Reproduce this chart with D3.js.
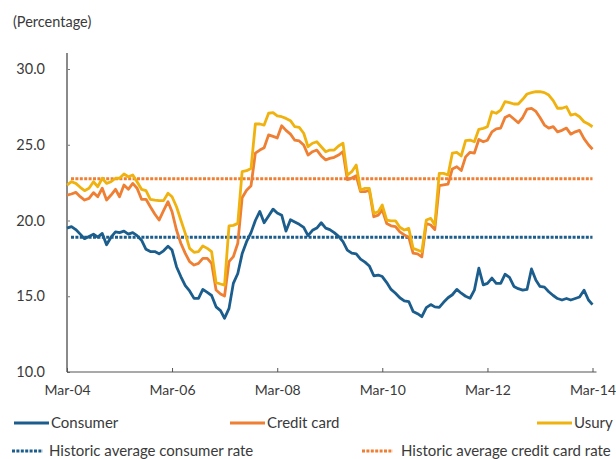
<!DOCTYPE html>
<html>
<head>
<meta charset="utf-8">
<script src="https://cdn.jsdelivr.net/npm/d3@7"></script>
<style>
  body { margin: 0; background: #fff; }
  svg text { font-family: Lato, "Open Sans", sans-serif; fill: #3a3a3a; }
</style>
</head>
<body>
<svg id="chart"></svg>
<script>
// monthly series, Mar-04 .. Mar-14 (121 months)
const consumer = [
  19.5, 19.6, 19.4, 19.1, 18.8, 18.95, 19.1, 18.9, 19.15, 18.4, 18.9, 19.25,
  19.2, 19.3, 19.1, 19.2, 19.0, 18.7, 18.1, 17.95, 17.95, 17.8, 18.0, 18.3,
  18.05, 16.95, 16.3, 15.7, 15.35, 14.86, 14.86, 15.45, 15.25, 15.05, 14.3, 14.05,
  13.55, 14.2, 15.85, 16.5, 17.8, 18.6, 19.2, 20.0, 20.6, 19.85, 20.3, 20.75,
  20.5, 20.35, 19.3, 20.05, 19.9, 19.75, 19.55, 19.0, 19.35, 19.5, 19.85, 19.5,
  19.4, 19.2, 18.95, 18.6, 18.05, 17.85, 17.8, 17.45, 17.25, 17.0, 16.35, 16.4,
  16.3, 15.9, 15.45, 15.2, 14.9, 14.7, 14.65, 14.0, 13.85, 13.65, 14.25, 14.45,
  14.3, 14.27, 14.6, 14.9, 15.1, 15.45, 15.2, 15.0, 14.87, 15.4, 16.85, 15.75,
  15.85, 16.2, 15.85, 15.85, 16.45, 16.25, 15.65, 15.5, 15.4, 15.45, 16.8, 16.05,
  15.65, 15.6, 15.3, 15.05, 14.85, 14.75, 14.85, 14.75, 14.85, 14.95, 15.4, 14.75,
  14.45
];

const creditCard = [
  21.68, 21.75, 21.86, 21.57, 21.35, 21.46, 21.84, 21.57, 22.13, 21.35, 21.68, 22.06,
  21.57, 22.34, 22.06, 22.45, 22.13, 21.4, 21.4, 20.91, 20.43, 20.03, 20.65, 21.24,
  20.58, 19.37, 18.5, 17.83, 17.28, 17.06, 17.17, 17.5, 17.5, 17.17, 15.41, 15.15,
  15.02, 17.28, 17.61, 18.5, 21.5, 22.0, 22.3, 24.45, 24.65, 24.8, 25.65, 25.55,
  25.45, 26.25, 25.95, 25.7, 25.3, 25.25, 24.98, 24.32, 24.54, 24.65, 24.26, 24.0,
  24.1, 24.17, 24.32, 24.54, 22.7, 22.8, 22.95, 21.9, 21.9, 22.0, 20.25, 20.35,
  20.7, 19.8, 19.65, 19.6, 19.25, 19.05, 18.9, 17.85, 17.8, 17.6, 19.8, 19.7,
  19.4, 22.3, 22.35, 22.4, 23.4, 23.55, 23.3, 24.2, 24.5, 24.45, 25.35, 25.2,
  25.3, 25.85, 26.05, 26.1, 26.8, 26.95, 26.7, 26.45, 26.8, 27.35, 27.4, 27.2,
  26.8, 26.3, 26.1, 26.2, 25.85, 25.95, 26.1, 25.7, 25.85, 25.95, 25.4, 25.0,
  24.7
];

const usury = [
  22.34, 22.56, 22.45, 22.19, 21.97, 22.13, 22.56, 22.23, 22.79, 22.45, 22.56, 22.79,
  22.79, 23.07, 22.89, 23.0, 22.56, 22.06, 21.97, 21.4, 21.35, 21.31, 21.31, 21.8,
  21.57, 20.91, 20.03, 19.15, 18.16, 17.9, 17.94, 18.32, 18.16, 17.94, 15.9, 15.81,
  15.74, 19.64, 19.68, 19.81, 23.22, 23.29, 23.44, 26.37, 26.37, 26.3, 27.08, 27.12,
  26.9, 26.85, 26.74, 26.59, 26.19, 26.15, 25.76, 24.87, 25.1, 25.2, 24.87, 24.54,
  24.65, 24.65, 24.92, 25.1, 23.0, 23.22, 23.66, 22.01, 22.12, 22.12, 20.47, 20.58,
  21.02, 20.03, 19.98, 19.98, 19.55, 19.37, 19.48, 18.16, 18.05, 17.94, 20.03, 20.14,
  19.7, 23.11, 23.11, 23.0, 24.44, 24.5, 24.26, 25.27, 25.31, 25.2, 26.02, 26.08,
  26.19, 27.18, 27.08, 27.29, 27.84, 27.78, 27.69, 27.69, 28.0, 28.35, 28.44, 28.5,
  28.5, 28.44, 28.28, 27.91, 27.41, 27.41, 27.51, 26.96, 27.03, 26.85, 26.52, 26.37,
  26.19
];

const avgConsumer = 18.9;
const avgCreditCard = 22.75;

const yTicks = [10, 15, 20, 25, 30];
const xTickYears = [2004, 2006, 2008, 2010, 2012, 2014];

const colors = {
    consumer: "#1b5d8c",
    credit: "#ee7f33",
    usury: "#f0b20e",
};

const width = 616, height = 459;

const svg = d3.select("#chart").attr("width", width).attr("height", height);

const months = consumer.map((_, i) => new Date(2004, 2 + i, 1));

const x = d3.scaleTime()
    .domain([new Date(2004, 2, 1), new Date(2014, 2, 1)])
    .range([67, 592.5]);
const y = d3.scaleLinear().domain([10, 30]).range([372, 69]);

// y axis
const yAxis = svg.append("g")
    .attr("transform", `translate(${x.range()[0]},0)`)
    .call(d3.axisLeft(y).tickValues(yTicks).tickFormat(d3.format(".1f"))
        .tickSizeInner(-3).tickSizeOuter(0).tickPadding(22));
yAxis.select(".domain").remove();
yAxis.selectAll(".tick line").attr("stroke", "#777");
yAxis.selectAll(".tick text").attr("font-size", 14.5).attr("fill", "#3a3a3a");
yAxis.append("line")
    .attr("y1", y(31.05)).attr("y2", y(10))
    .attr("stroke", "#8a8a8a").attr("stroke-width", 2);

// x axis
const xAxis = svg.append("g")
    .attr("transform", `translate(0,${y(10)})`)
    .call(d3.axisBottom(x)
        .tickValues(xTickYears.map(yr => new Date(yr, 2, 1)))
        .tickFormat(d3.timeFormat("%b-%y"))
        .tickSizeInner(-4).tickSizeOuter(0).tickPadding(13));
xAxis.select(".domain").remove();
xAxis.selectAll(".tick line").attr("stroke", "#555");
xAxis.selectAll(".tick text").attr("font-size", 14).attr("fill", "#3a3a3a");
xAxis.append("line")
    .attr("x1", x.range()[0]).attr("x2", x.range()[1] + 4)
    .attr("stroke", "#555").attr("stroke-width", 1.2);

// unit label
svg.append("text")
    .attr("x", 13).attr("y", 27)
    .attr("font-size", 14.5)
    .text("(Percentage)");

// historic averages
const averages = [
    { value: avgConsumer, color: colors.consumer },
    { value: avgCreditCard, color: colors.credit },
];
svg.selectAll(".avg")
    .data(averages)
    .enter().append("line")
    .attr("class", "avg")
    .attr("x1", x.range()[0] + 4).attr("x2", x.range()[1])
    .attr("y1", d => y(d.value)).attr("y2", d => y(d.value))
    .attr("stroke", d => d.color)
    .attr("stroke-width", 3)
    .attr("stroke-dasharray", "3,1.4");

// series
const series = [
    { values: consumer, color: colors.consumer },
    { values: creditCard, color: colors.credit },
    { values: usury, color: colors.usury },
];
const line = d3.line()
    .x((d, i) => x(months[i]))
    .y(d => y(d));
svg.selectAll(".series")
    .data(series)
    .enter().append("path")
    .attr("class", "series")
    .attr("d", d => line(d.values))
    .attr("fill", "none")
    .attr("stroke", d => d.color)
    .attr("stroke-width", 2.8)
    .attr("stroke-linejoin", "round");

// legend
const legendItems = [
    { label: "Consumer", color: colors.consumer, dotted: false, lx: 14, ty: 423 },
    { label: "Credit card", color: colors.credit, dotted: false, lx: 230, ty: 423 },
    { label: "Usury", color: colors.usury, dotted: false, lx: 537, ty: 423 },
    { label: "Historic average consumer rate", color: colors.consumer, dotted: true, lx: 12, ty: 451 },
    { label: "Historic average credit card rate", color: colors.credit, dotted: true, lx: 362, ty: 451 },
];
const legend = svg.selectAll(".legend")
    .data(legendItems)
    .enter().append("g")
    .attr("class", "legend")
    .attr("transform", d => `translate(${d.lx},${d.ty})`);
legend.append("line")
    .attr("x1", 0).attr("x2", d => d.dotted ? 31 : 35)
    .attr("stroke", d => d.color)
    .attr("stroke-width", 3)
    .attr("stroke-dasharray", d => d.dotted ? "3,1.4" : null);
legend.append("text")
    .attr("x", d => d.dotted ? (d.lx < 100 ? 37 : 39) : 37)
    .attr("dy", "0.35em")
    .attr("font-size", 15)
    .text(d => d.label);
</script>
</body>
</html>
